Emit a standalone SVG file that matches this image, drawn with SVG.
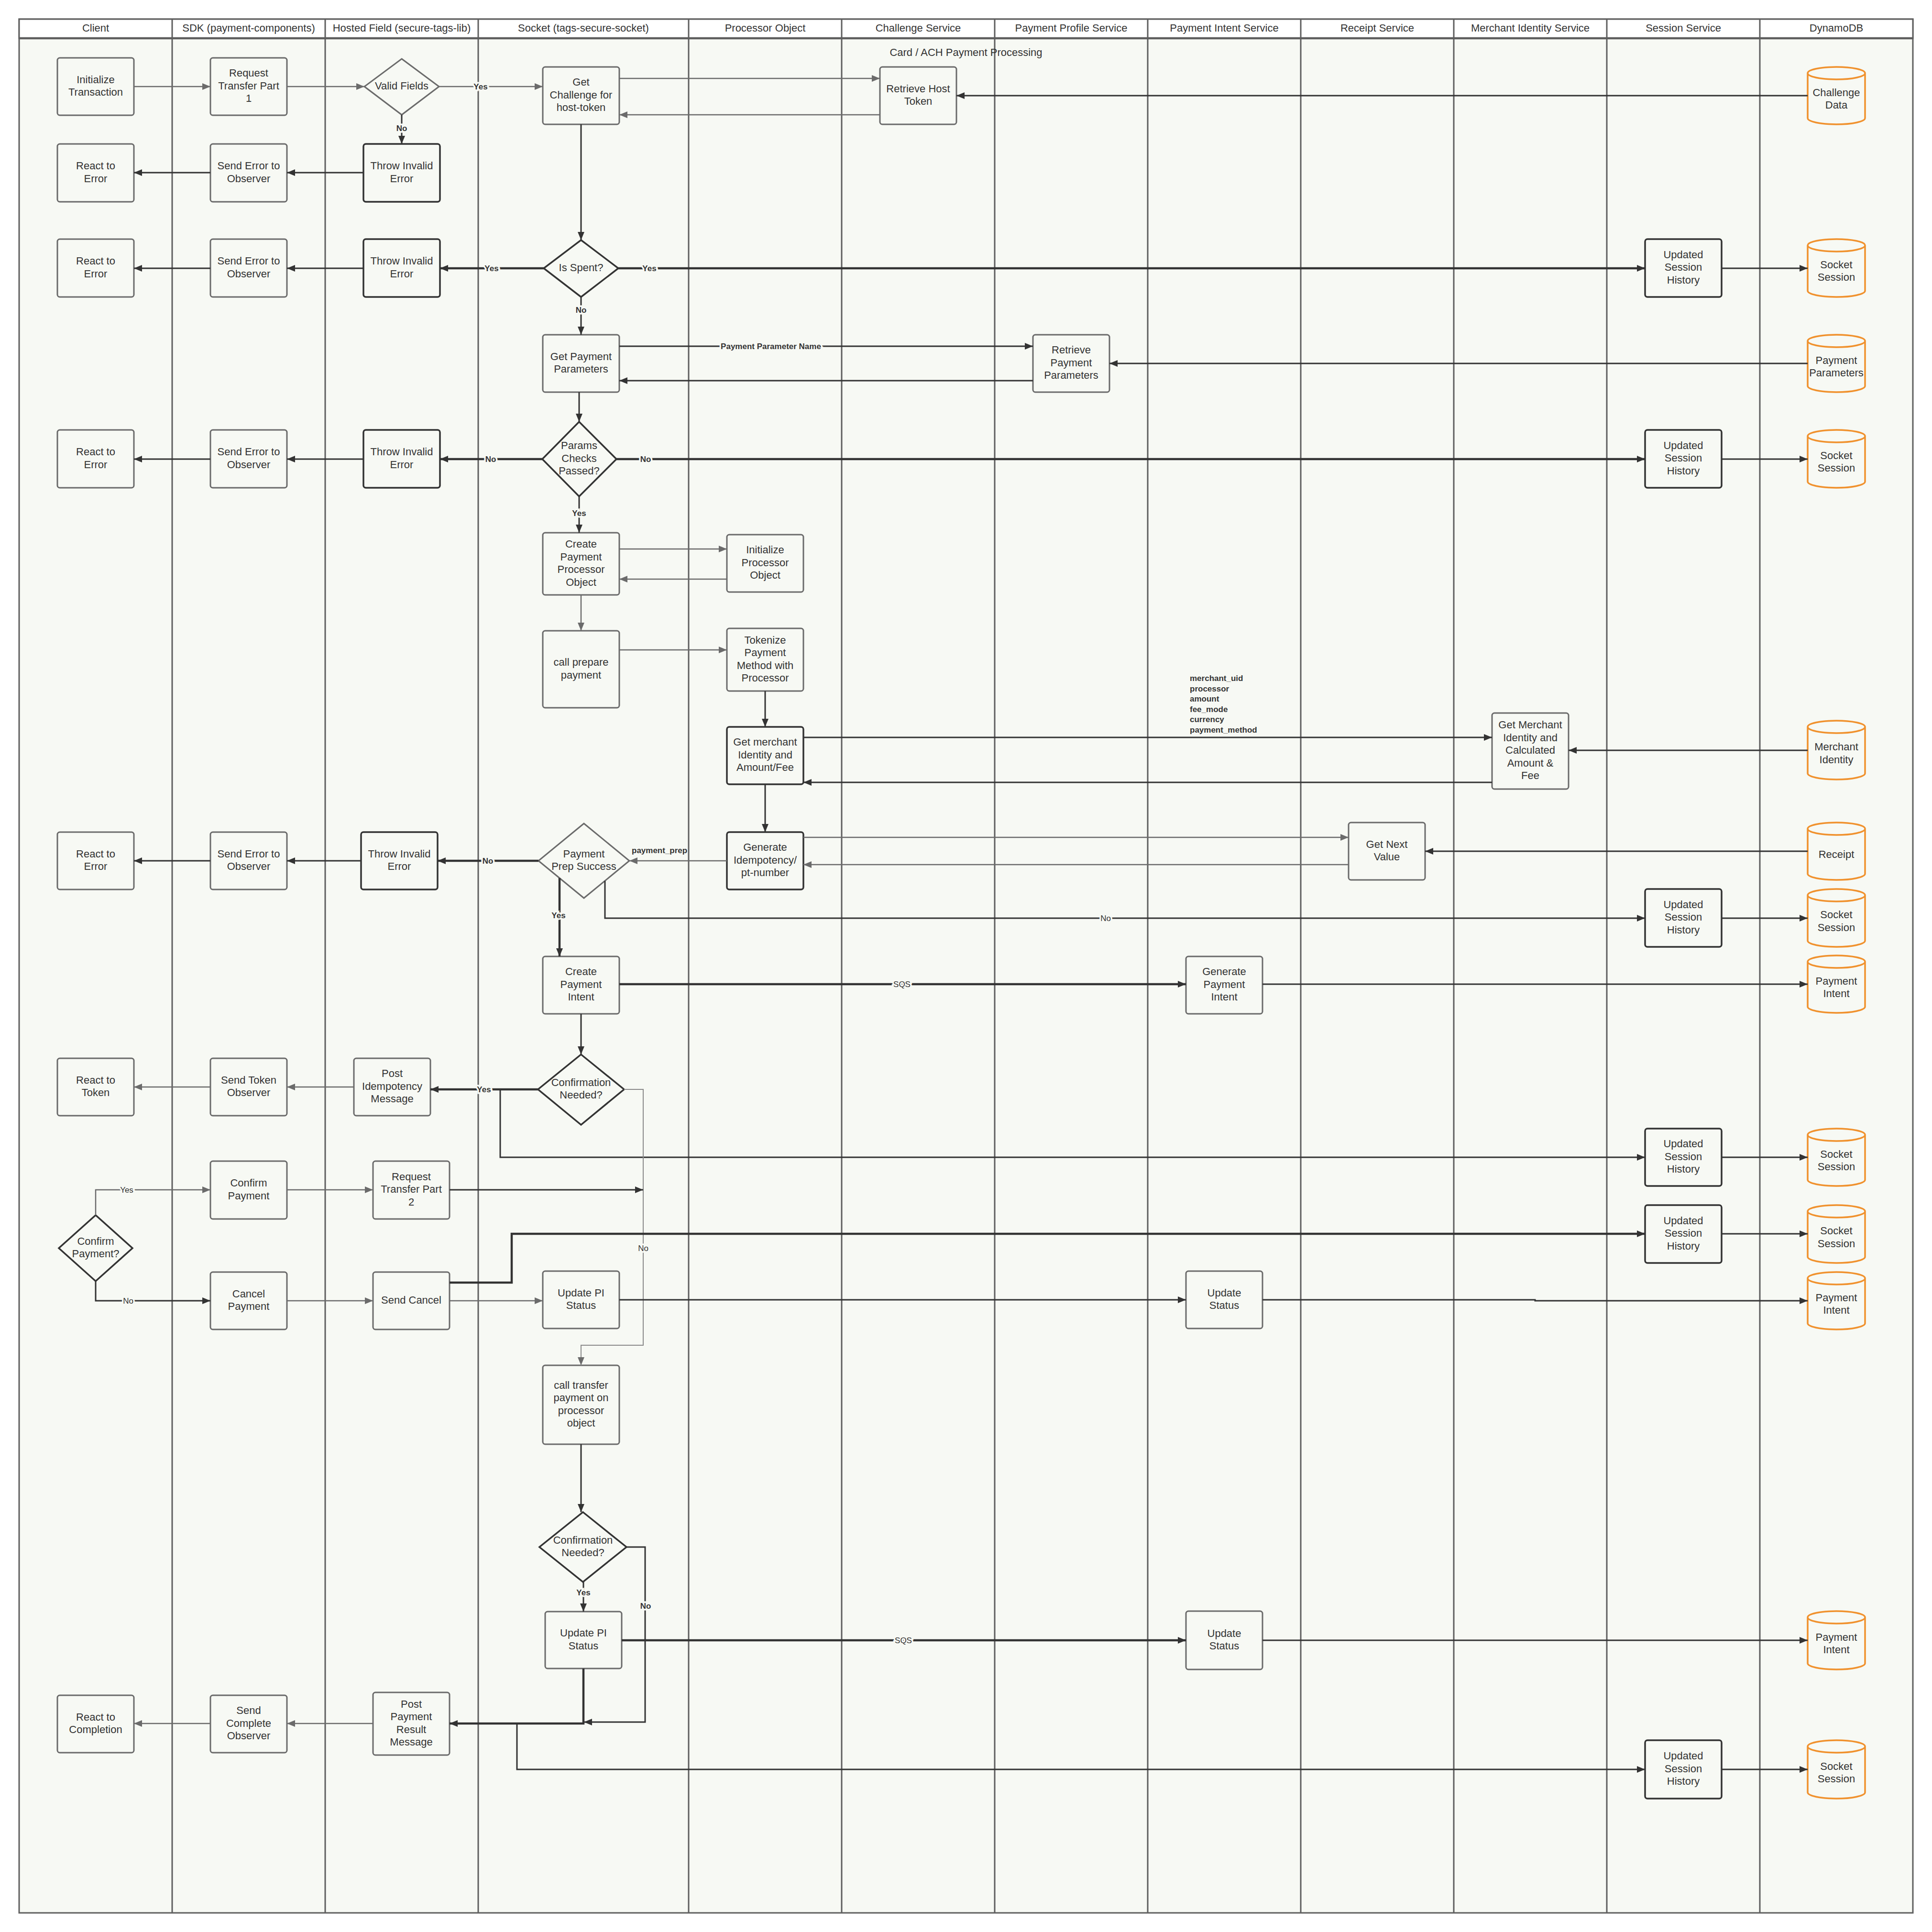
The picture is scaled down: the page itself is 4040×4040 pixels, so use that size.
<svg xmlns="http://www.w3.org/2000/svg" width="4040" height="4040" viewBox="0 0 4040 4040">
<defs>
<style>
.bg{fill:#F7F9F4;stroke:#5E5E5E;stroke-width:3}
.hdr{fill:#FFFFFF;stroke:#5E5E5E;stroke-width:3}
.div{stroke:#5E5E5E;stroke-width:3}
.ht{font-family:"Liberation Sans",Arial,sans-serif;font-size:22px;fill:#333;text-anchor:middle;dominant-baseline:central}
.n{fill:#F7F9F4;stroke:#6A6A6A;stroke-width:3}
.nd{fill:#F7F9F4;stroke:#333333;stroke-width:3.5}
.cyl{fill:#F7F9F4;stroke:#F0912D;stroke-width:3.5}
.t{font-family:"Liberation Sans",Arial,sans-serif;font-size:22px;fill:#333;text-anchor:middle;dominant-baseline:central;transform:translate(0px,-2px)}
.lbl{font-family:"Liberation Sans",Arial,sans-serif;font-size:17px;font-weight:bold;fill:#333;text-anchor:middle;dominant-baseline:central;stroke:#F7F9F4;stroke-width:7;paint-order:stroke}
.lbln{font-family:"Liberation Sans",Arial,sans-serif;font-size:17px;font-weight:bold;fill:#333;dominant-baseline:central}
.cg{fill:none;stroke:#6B6B6B;stroke-width:2.5;marker-end:url(#ag)}
.cgl{fill:none;stroke:#8A8A8A;stroke-width:2;marker-end:url(#ag)}
.cd{fill:none;stroke:#333333;stroke-width:3;marker-end:url(#ad)}
.ck{fill:none;stroke:#333333;stroke-width:4.5;marker-end:url(#ad)}
.cdn{fill:none;stroke:#333333;stroke-width:3}
</style>
<marker id="ag" markerUnits="userSpaceOnUse" markerWidth="18" markerHeight="14" refX="17" refY="7" orient="auto"><path d="M0,0 L17,7 L0,14 Z" fill="#6B6B6B"/></marker>
<marker id="ad" markerUnits="userSpaceOnUse" markerWidth="18" markerHeight="14" refX="17" refY="7" orient="auto"><path d="M0,0 L17,7 L0,14 Z" fill="#333333"/></marker>
</defs>
<rect width="4040" height="4040" fill="#FFFFFF"/>
<g id="lanes">
<rect class="bg" x="40" y="40" width="3960" height="3960"/>
<rect class="hdr" x="40" y="40" width="3960" height="40"/>
<line class="div" x1="40" y1="80" x2="4000" y2="80" style="stroke-width:4.5"/>
<line class="div" x1="360" y1="40" x2="360" y2="4000"/>
<line class="div" x1="680" y1="40" x2="680" y2="4000"/>
<line class="div" x1="1000" y1="40" x2="1000" y2="4000"/>
<line class="div" x1="1440" y1="40" x2="1440" y2="4000"/>
<line class="div" x1="1760" y1="40" x2="1760" y2="4000"/>
<line class="div" x1="2080" y1="40" x2="2080" y2="4000"/>
<line class="div" x1="2400" y1="40" x2="2400" y2="4000"/>
<line class="div" x1="2720" y1="40" x2="2720" y2="4000"/>
<line class="div" x1="3040" y1="40" x2="3040" y2="4000"/>
<line class="div" x1="3360" y1="40" x2="3360" y2="4000"/>
<line class="div" x1="3680" y1="40" x2="3680" y2="4000"/>
<text class="ht" x="200" y="58">Client</text>
<text class="ht" x="520" y="58">SDK (payment-components)</text>
<text class="ht" x="840" y="58">Hosted Field (secure-tags-lib)</text>
<text class="ht" x="1220" y="58">Socket (tags-secure-socket)</text>
<text class="ht" x="1600" y="58">Processor Object</text>
<text class="ht" x="1920" y="58">Challenge Service</text>
<text class="ht" x="2240" y="58">Payment Profile Service</text>
<text class="ht" x="2560" y="58">Payment Intent Service</text>
<text class="ht" x="2880" y="58">Receipt Service</text>
<text class="ht" x="3200" y="58">Merchant Identity Service</text>
<text class="ht" x="3520" y="58">Session Service</text>
<text class="ht" x="3840" y="58">DynamoDB</text>
<text class="ht" x="2020" y="109">Card / ACH Payment Processing</text>
</g>
<g id="n1"><rect class="n" x="120" y="121" width="160" height="120" rx="5"/><text class="t" x="200" y="168">Initialize</text><text class="t" x="200" y="194">Transaction</text></g>
<g id="n2"><rect class="n" x="440" y="121" width="160" height="120" rx="5"/><text class="t" x="520" y="154.5">Request</text><text class="t" x="520" y="181">Transfer Part</text><text class="t" x="520" y="207.5">1</text></g>
<g id="n3"><polygon class="n" points="840,123 918,181 840,240 762,181"/><text class="t" x="840" y="181">Valid Fields</text></g>
<g id="n4"><rect class="n" x="1135" y="140" width="160" height="120" rx="5"/><text class="t" x="1215" y="173.5">Get</text><text class="t" x="1215" y="200">Challenge for</text><text class="t" x="1215" y="226.5">host-token</text></g>
<g id="n5"><rect class="n" x="1840" y="140" width="160" height="120" rx="5"/><text class="t" x="1920" y="187">Retrieve Host</text><text class="t" x="1920" y="213">Token</text></g>
<g id="n6"><path class="cyl" d="M3780,153 A60,13 0 0 1 3900,153 V247 A60,13 0 0 1 3780,247 Z M3780,153 A60,13 0 0 0 3900,153"/><text class="t" x="3840" y="195">Challenge</text><text class="t" x="3840" y="221">Data</text></g>
<g id="n7"><rect class="n" x="120" y="301" width="160" height="121" rx="5"/><text class="t" x="200" y="348">React to</text><text class="t" x="200" y="375">Error</text></g>
<g id="n8"><rect class="n" x="440" y="301" width="160" height="121" rx="5"/><text class="t" x="520" y="348">Send Error to</text><text class="t" x="520" y="375">Observer</text></g>
<g id="n9"><rect class="nd" x="760" y="301" width="160" height="121" rx="5"/><text class="t" x="840" y="348">Throw Invalid</text><text class="t" x="840" y="375">Error</text></g>
<g id="n10"><rect class="n" x="120" y="500" width="160" height="121" rx="5"/><text class="t" x="200" y="547">React to</text><text class="t" x="200" y="574">Error</text></g>
<g id="n11"><rect class="n" x="440" y="500" width="160" height="121" rx="5"/><text class="t" x="520" y="547">Send Error to</text><text class="t" x="520" y="574">Observer</text></g>
<g id="n12"><rect class="nd" x="760" y="500" width="160" height="121" rx="5"/><text class="t" x="840" y="547">Throw Invalid</text><text class="t" x="840" y="574">Error</text></g>
<g id="n13"><polygon class="nd" points="1215,502 1293,561 1215,621 1137,561"/><text class="t" x="1215" y="561">Is Spent?</text></g>
<g id="n14"><rect class="nd" x="3440" y="500" width="160" height="121" rx="5"/><text class="t" x="3520" y="534">Updated</text><text class="t" x="3520" y="560.5">Session</text><text class="t" x="3520" y="587">History</text></g>
<g id="n15"><path class="cyl" d="M3780,513 A60,13 0 0 1 3900,513 V608 A60,13 0 0 1 3780,608 Z M3780,513 A60,13 0 0 0 3900,513"/><text class="t" x="3840" y="555">Socket</text><text class="t" x="3840" y="581">Session</text></g>
<g id="n16"><rect class="n" x="1135" y="700" width="160" height="120" rx="5"/><text class="t" x="1215" y="747">Get Payment</text><text class="t" x="1215" y="773">Parameters</text></g>
<g id="n17"><rect class="n" x="2160" y="700" width="160" height="120" rx="5"/><text class="t" x="2240" y="733.5">Retrieve</text><text class="t" x="2240" y="760">Payment</text><text class="t" x="2240" y="786.5">Parameters</text></g>
<g id="n18"><path class="cyl" d="M3780,713 A60,13 0 0 1 3900,713 V807 A60,13 0 0 1 3780,807 Z M3780,713 A60,13 0 0 0 3900,713"/><text class="t" x="3840" y="755">Payment</text><text class="t" x="3840" y="781">Parameters</text></g>
<g id="n19"><rect class="n" x="120" y="899" width="160" height="121" rx="5"/><text class="t" x="200" y="946">React to</text><text class="t" x="200" y="973">Error</text></g>
<g id="n20"><rect class="n" x="440" y="899" width="160" height="121" rx="5"/><text class="t" x="520" y="946">Send Error to</text><text class="t" x="520" y="973">Observer</text></g>
<g id="n21"><rect class="nd" x="760" y="899" width="160" height="121" rx="5"/><text class="t" x="840" y="946">Throw Invalid</text><text class="t" x="840" y="973">Error</text></g>
<g id="n22"><polygon class="nd" points="1211,882 1289,960 1211,1038 1134,960"/><text class="t" x="1211" y="933.5">Params</text><text class="t" x="1211" y="960">Checks</text><text class="t" x="1211" y="986.5">Passed?</text></g>
<g id="n23"><rect class="nd" x="3440" y="899" width="160" height="121" rx="5"/><text class="t" x="3520" y="933">Updated</text><text class="t" x="3520" y="959.5">Session</text><text class="t" x="3520" y="986">History</text></g>
<g id="n24"><path class="cyl" d="M3780,912 A60,13 0 0 1 3900,912 V1007 A60,13 0 0 1 3780,1007 Z M3780,912 A60,13 0 0 0 3900,912"/><text class="t" x="3840" y="954">Socket</text><text class="t" x="3840" y="980">Session</text></g>
<g id="n25"><rect class="n" x="1135" y="1114" width="160" height="130" rx="5"/><text class="t" x="1215" y="1139.5">Create</text><text class="t" x="1215" y="1166">Payment</text><text class="t" x="1215" y="1192.5">Processor</text><text class="t" x="1215" y="1219">Object</text></g>
<g id="n26"><rect class="n" x="1520" y="1118" width="160" height="120" rx="5"/><text class="t" x="1600" y="1151.5">Initialize</text><text class="t" x="1600" y="1178">Processor</text><text class="t" x="1600" y="1204.5">Object</text></g>
<g id="n27"><rect class="n" x="1135" y="1319" width="160" height="161" rx="5"/><text class="t" x="1215" y="1386">call prepare</text><text class="t" x="1215" y="1413">payment</text></g>
<g id="n28"><rect class="n" x="1520" y="1314" width="160" height="131" rx="5"/><text class="t" x="1600" y="1340">Tokenize</text><text class="t" x="1600" y="1366.5">Payment</text><text class="t" x="1600" y="1393">Method with</text><text class="t" x="1600" y="1419.5">Processor</text></g>
<g id="n29"><rect class="nd" x="1520" y="1520" width="160" height="120" rx="5"/><text class="t" x="1600" y="1553.5">Get merchant</text><text class="t" x="1600" y="1580">Identity and</text><text class="t" x="1600" y="1606.5">Amount/Fee</text></g>
<g id="n30"><rect class="n" x="3120" y="1491" width="160" height="159" rx="5"/><text class="t" x="3200" y="1517.5">Get Merchant</text><text class="t" x="3200" y="1544">Identity and</text><text class="t" x="3200" y="1570.5">Calculated</text><text class="t" x="3200" y="1597">Amount &amp;</text><text class="t" x="3200" y="1623.5">Fee</text></g>
<g id="n31"><path class="cyl" d="M3780,1520 A60,13 0 0 1 3900,1520 V1617 A60,13 0 0 1 3780,1617 Z M3780,1520 A60,13 0 0 0 3900,1520"/><text class="t" x="3840" y="1563">Merchant</text><text class="t" x="3840" y="1590">Identity</text></g>
<g id="n32"><rect class="nd" x="1520" y="1740" width="160" height="120" rx="5"/><text class="t" x="1600" y="1773.5">Generate</text><text class="t" x="1600" y="1800">Idempotency/</text><text class="t" x="1600" y="1826.5">pt-number</text></g>
<g id="n33"><rect class="n" x="2820" y="1720" width="160" height="120" rx="5"/><text class="t" x="2900" y="1767">Get Next</text><text class="t" x="2900" y="1793">Value</text></g>
<g id="n34"><path class="cyl" d="M3780,1733 A60,13 0 0 1 3900,1733 V1827 A60,13 0 0 1 3780,1827 Z M3780,1733 A60,13 0 0 0 3900,1733"/><text class="t" x="3840" y="1788">Receipt</text></g>
<g id="n35"><rect class="n" x="120" y="1740" width="160" height="120" rx="5"/><text class="t" x="200" y="1787">React to</text><text class="t" x="200" y="1813">Error</text></g>
<g id="n36"><rect class="n" x="440" y="1740" width="160" height="120" rx="5"/><text class="t" x="520" y="1787">Send Error to</text><text class="t" x="520" y="1813">Observer</text></g>
<g id="n37"><rect class="nd" x="755" y="1740" width="160" height="120" rx="5"/><text class="t" x="835" y="1787">Throw Invalid</text><text class="t" x="835" y="1813">Error</text></g>
<g id="n38"><polygon class="n" points="1221,1722 1316,1800 1221,1878 1126,1800"/><text class="t" x="1221" y="1787">Payment</text><text class="t" x="1221" y="1813">Prep Success</text></g>
<g id="n39"><rect class="nd" x="3440" y="1859" width="160" height="121" rx="5"/><text class="t" x="3520" y="1893">Updated</text><text class="t" x="3520" y="1919.5">Session</text><text class="t" x="3520" y="1946">History</text></g>
<g id="n40"><path class="cyl" d="M3780,1872 A60,13 0 0 1 3900,1872 V1967 A60,13 0 0 1 3780,1967 Z M3780,1872 A60,13 0 0 0 3900,1872"/><text class="t" x="3840" y="1914">Socket</text><text class="t" x="3840" y="1941">Session</text></g>
<g id="n41"><rect class="n" x="1135" y="2000" width="160" height="120" rx="5"/><text class="t" x="1215" y="2033.5">Create</text><text class="t" x="1215" y="2060">Payment</text><text class="t" x="1215" y="2086.5">Intent</text></g>
<g id="n42"><rect class="n" x="2480" y="2000" width="160" height="120" rx="5"/><text class="t" x="2560" y="2033.5">Generate</text><text class="t" x="2560" y="2060">Payment</text><text class="t" x="2560" y="2086.5">Intent</text></g>
<g id="n43"><path class="cyl" d="M3780,2011 A60,13 0 0 1 3900,2011 V2105 A60,13 0 0 1 3780,2105 Z M3780,2011 A60,13 0 0 0 3900,2011"/><text class="t" x="3840" y="2053">Payment</text><text class="t" x="3840" y="2079">Intent</text></g>
<g id="n44"><polygon class="nd" points="1215,2205 1305,2278 1215,2352 1125,2278"/><text class="t" x="1215" y="2265">Confirmation</text><text class="t" x="1215" y="2291">Needed?</text></g>
<g id="n45"><rect class="n" x="120" y="2213" width="160" height="120" rx="5"/><text class="t" x="200" y="2260">React to</text><text class="t" x="200" y="2286">Token</text></g>
<g id="n46"><rect class="n" x="440" y="2213" width="160" height="120" rx="5"/><text class="t" x="520" y="2260">Send Token</text><text class="t" x="520" y="2286">Observer</text></g>
<g id="n47"><rect class="n" x="740" y="2213" width="160" height="120" rx="5"/><text class="t" x="820" y="2246.5">Post</text><text class="t" x="820" y="2273">Idempotency</text><text class="t" x="820" y="2299.5">Message</text></g>
<g id="n48"><rect class="nd" x="3440" y="2360" width="160" height="120" rx="5"/><text class="t" x="3520" y="2393.5">Updated</text><text class="t" x="3520" y="2420">Session</text><text class="t" x="3520" y="2446.5">History</text></g>
<g id="n49"><path class="cyl" d="M3780,2373 A60,13 0 0 1 3900,2373 V2467 A60,13 0 0 1 3780,2467 Z M3780,2373 A60,13 0 0 0 3900,2373"/><text class="t" x="3840" y="2415">Socket</text><text class="t" x="3840" y="2441">Session</text></g>
<g id="n50"><rect class="n" x="440" y="2428" width="160" height="121" rx="5"/><text class="t" x="520" y="2475">Confirm</text><text class="t" x="520" y="2502">Payment</text></g>
<g id="n51"><rect class="n" x="780" y="2428" width="160" height="121" rx="5"/><text class="t" x="860" y="2462">Request</text><text class="t" x="860" y="2488.5">Transfer Part</text><text class="t" x="860" y="2515">2</text></g>
<g id="n52"><polygon class="nd" points="200,2541 277,2610 200,2679 123,2610"/><text class="t" x="200" y="2597">Confirm</text><text class="t" x="200" y="2623">Payment?</text></g>
<g id="n53"><rect class="nd" x="3440" y="2520" width="160" height="121" rx="5"/><text class="t" x="3520" y="2554">Updated</text><text class="t" x="3520" y="2580.5">Session</text><text class="t" x="3520" y="2607">History</text></g>
<g id="n54"><path class="cyl" d="M3780,2533 A60,13 0 0 1 3900,2533 V2628 A60,13 0 0 1 3780,2628 Z M3780,2533 A60,13 0 0 0 3900,2533"/><text class="t" x="3840" y="2575">Socket</text><text class="t" x="3840" y="2602">Session</text></g>
<g id="n55"><rect class="n" x="440" y="2660" width="160" height="120" rx="5"/><text class="t" x="520" y="2707">Cancel</text><text class="t" x="520" y="2733">Payment</text></g>
<g id="n56"><rect class="n" x="780" y="2660" width="160" height="120" rx="5"/><text class="t" x="860" y="2720">Send Cancel</text></g>
<g id="n57"><rect class="n" x="1135" y="2658" width="160" height="120" rx="5"/><text class="t" x="1215" y="2705">Update PI</text><text class="t" x="1215" y="2731">Status</text></g>
<g id="n58"><rect class="n" x="2480" y="2658" width="160" height="120" rx="5"/><text class="t" x="2560" y="2705">Update</text><text class="t" x="2560" y="2731">Status</text></g>
<g id="n59"><path class="cyl" d="M3780,2673 A60,13 0 0 1 3900,2673 V2767 A60,13 0 0 1 3780,2767 Z M3780,2673 A60,13 0 0 0 3900,2673"/><text class="t" x="3840" y="2715">Payment</text><text class="t" x="3840" y="2741">Intent</text></g>
<g id="n60"><rect class="n" x="1135" y="2855" width="160" height="165" rx="5"/><text class="t" x="1215" y="2898">call transfer</text><text class="t" x="1215" y="2924.5">payment on</text><text class="t" x="1215" y="2951">processor</text><text class="t" x="1215" y="2977.5">object</text></g>
<g id="n61"><polygon class="nd" points="1219,3162 1310,3235 1219,3308 1128,3235"/><text class="t" x="1219" y="3222">Confirmation</text><text class="t" x="1219" y="3248">Needed?</text></g>
<g id="n62"><rect class="n" x="1140" y="3370" width="160" height="119" rx="5"/><text class="t" x="1220" y="3416">Update PI</text><text class="t" x="1220" y="3443">Status</text></g>
<g id="n63"><rect class="n" x="2480" y="3369" width="160" height="122" rx="5"/><text class="t" x="2560" y="3417">Update</text><text class="t" x="2560" y="3443">Status</text></g>
<g id="n64"><path class="cyl" d="M3780,3382 A60,13 0 0 1 3900,3382 V3478 A60,13 0 0 1 3780,3478 Z M3780,3382 A60,13 0 0 0 3900,3382"/><text class="t" x="3840" y="3425">Payment</text><text class="t" x="3840" y="3451">Intent</text></g>
<g id="n65"><rect class="n" x="120" y="3545" width="160" height="120" rx="5"/><text class="t" x="200" y="3592">React to</text><text class="t" x="200" y="3618">Completion</text></g>
<g id="n66"><rect class="n" x="440" y="3545" width="160" height="120" rx="5"/><text class="t" x="520" y="3578.5">Send</text><text class="t" x="520" y="3605">Complete</text><text class="t" x="520" y="3631.5">Observer</text></g>
<g id="n67"><rect class="n" x="780" y="3539" width="160" height="131" rx="5"/><text class="t" x="860" y="3565">Post</text><text class="t" x="860" y="3591.5">Payment</text><text class="t" x="860" y="3618">Result</text><text class="t" x="860" y="3644.5">Message</text></g>
<g id="n68"><rect class="nd" x="3440" y="3639" width="160" height="122" rx="5"/><text class="t" x="3520" y="3673.5">Updated</text><text class="t" x="3520" y="3700">Session</text><text class="t" x="3520" y="3726.5">History</text></g>
<g id="n69"><path class="cyl" d="M3780,3652 A60,13 0 0 1 3900,3652 V3748 A60,13 0 0 1 3780,3748 Z M3780,3652 A60,13 0 0 0 3900,3652"/><text class="t" x="3840" y="3695">Socket</text><text class="t" x="3840" y="3721">Session</text></g>
<g id="connectors">
<path class="cg" d="M280,181 H440"/>
<path class="cg" d="M600,181 H762"/>
<path class="cg" d="M918,181 H1135"/>
<path class="cd" d="M840,240 V301"/>
<path class="cd" d="M760,361 H600"/>
<path class="cd" d="M440,361 H280"/>
<path class="cg" d="M1295,164 H1840"/>
<path class="cg" d="M1840,240 H1295"/>
<path class="cd" d="M3780,200 H2000"/>
<path class="cd" d="M1215,260 V502"/>
<path class="ck" d="M1137,561 H920"/>
<path class="cd" d="M760,561 H600"/>
<path class="cd" d="M440,561 H280"/>
<path class="ck" d="M1293,561 H3440"/>
<path class="cd" d="M3600,561 H3780"/>
<path class="cd" d="M1215,621 V700"/>
<path class="cd" d="M1295,724 H2160"/>
<path class="cd" d="M2160,796 H1295"/>
<path class="cd" d="M3780,760 H2320"/>
<path class="cd" d="M1211,820 V882"/>
<path class="ck" d="M1134,960 H920"/>
<path class="cd" d="M760,960 H600"/>
<path class="cd" d="M440,960 H280"/>
<path class="ck" d="M1289,960 H3440"/>
<path class="cd" d="M3600,960 H3780"/>
<path class="cd" d="M1211,1038 V1114"/>
<path class="cg" d="M1295,1148 H1520"/>
<path class="cg" d="M1520,1211 H1295"/>
<path class="cg" d="M1215,1244 V1319"/>
<path class="cg" d="M1295,1359 H1520"/>
<path class="cd" d="M1600,1445 V1520"/>
<path class="cd" d="M1680,1542 H3120"/>
<path class="cd" d="M3120,1636 H1680"/>
<path class="cd" d="M3780,1569 H3280"/>
<path class="cd" d="M1600,1640 V1740"/>
<path class="cg" d="M1680,1751 H2820"/>
<path class="cg" d="M2820,1808 H1680"/>
<path class="cd" d="M3780,1780 H2980"/>
<path class="cg" d="M1520,1800 H1316"/>
<path class="ck" d="M1126,1800 H915"/>
<path class="cd" d="M755,1800 H600"/>
<path class="cd" d="M440,1800 H280"/>
<path class="cd" d="M1265,1842 V1920 H3440"/>
<path class="cd" d="M3600,1920 H3780"/>
<path class="ck" d="M1170,1836 V2000"/>
<path class="ck" d="M1295,2058 H2480"/>
<path class="cd" d="M2640,2058 H3780"/>
<path class="cd" d="M1215,2120 V2205"/>
<path class="ck" d="M1125,2278 H900"/>
<path class="cg" d="M740,2273 H600"/>
<path class="cg" d="M440,2273 H280"/>
<path class="cd" d="M1046,2278 V2420 H3440"/>
<path class="cd" d="M3600,2420 H3780"/>
<path class="cgl" d="M1305,2278 H1345 V2813 H1215 V2855"/>
<path class="cg" d="M200,2541 V2488 H440"/>
<path class="cd" d="M200,2679 V2720 H440"/>
<path class="cg" d="M600,2488 H780"/>
<path class="cd" d="M940,2488 H1345"/>
<path class="cg" d="M600,2720 H780"/>
<path class="cg" d="M940,2720 H1135"/>
<path class="ck" d="M940,2682 H1070 V2580 H3440"/>
<path class="cd" d="M3600,2580 H3780"/>
<path class="cd" d="M1295,2718 H2480"/>
<path class="cd" d="M2640,2718 H3210 V2720 H3780"/>
<path class="cd" d="M1215,3020 V3162"/>
<path class="cd" d="M1220,3308 V3370"/>
<path class="cd" d="M1310,3235 H1349 V3601 H1221"/>
<path class="ck" d="M1300,3430 H2480"/>
<path class="cd" d="M2640,3430 H3780"/>
<path class="ck" d="M1220,3489 V3604 H940"/>
<path class="cdn" d="M1081,3604 V3700 H3440" style="marker-end:url(#ad)"/>
<path class="cd" d="M3600,3700 H3780"/>
<path class="cg" d="M780,3604 H600"/>
<path class="cg" d="M440,3604 H280"/>
<text class="lbl" x="1005" y="181">Yes</text>
<text class="lbl" x="840" y="268">No</text>
<text class="lbl" x="1028" y="561">Yes</text>
<text class="lbl" x="1358" y="561">Yes</text>
<text class="lbl" x="1215" y="648">No</text>
<text class="lbl" x="1612" y="724">Payment Parameter Name</text>
<text class="lbl" x="1026" y="960">No</text>
<text class="lbl" x="1350" y="960">No</text>
<text class="lbl" x="1211" y="1073">Yes</text>
<text class="lbln" x="2488" y="1418">merchant_uid</text>
<text class="lbln" x="2488" y="1440">processor</text>
<text class="lbln" x="2488" y="1461">amount</text>
<text class="lbln" x="2488" y="1483">fee_mode</text>
<text class="lbln" x="2488" y="1504">currency</text>
<text class="lbln" x="2488" y="1526">payment_method</text>
<text class="lbln" x="1321" y="1778">payment_prep</text>
<text class="lbl" x="1020" y="1800">No</text>
<text class="lbl" x="2312" y="1920" style="font-weight:normal">No</text>
<text class="lbl" x="1168" y="1914">Yes</text>
<text class="lbl" x="1886" y="2058" style="font-weight:normal">SQS</text>
<text class="lbl" x="1012" y="2278">Yes</text>
<text class="lbl" x="1345" y="2610" style="font-weight:normal">No</text>
<text class="lbl" x="265" y="2488" style="font-weight:normal">Yes</text>
<text class="lbl" x="268" y="2720" style="font-weight:normal">No</text>
<text class="lbl" x="1220" y="3330">Yes</text>
<text class="lbl" x="1350" y="3358">No</text>
<text class="lbl" x="1889" y="3430" style="font-weight:normal">SQS</text>
</g>
</svg>
